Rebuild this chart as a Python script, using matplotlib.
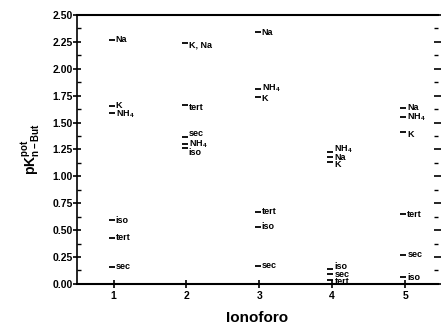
import matplotlib
matplotlib.use("Agg")
import matplotlib.pyplot as plt
from matplotlib.ticker import MultipleLocator

plt.rcParams['font.family'] = ['Liberation Sans', 'DejaVu Sans']
plt.rcParams['font.weight'] = 'bold'
plt.rcParams['mathtext.fontset'] = 'custom'
plt.rcParams['mathtext.rm'] = 'Liberation Sans:bold'
plt.rcParams['mathtext.bf'] = 'Liberation Sans:bold'
plt.rcParams['mathtext.it'] = 'Liberation Sans:bold'
plt.rcParams['mathtext.default'] = 'bf'

# ionophore number for each labelled value
ionoforo = [1, 1, 1, 1, 1, 1,
            2, 2, 2, 2, 2,
            3, 3, 3, 3, 3, 3,
            4, 4, 4, 4, 4, 4,
            5, 5, 5, 5, 5, 5]
ions = ['Na', 'K', 'NH$_4$', 'iso', 'tert', 'sec',
        'K, Na', 'tert', 'sec', 'NH$_4$', 'iso',
        'Na', 'NH$_4$', 'K', 'tert', 'iso', 'sec',
        'NH$_4$', 'Na', 'K', 'iso', 'sec', 'tert',
        'Na', 'NH$_4$', 'K', 'tert', 'sec', 'iso']
pk = [2.27, 1.65, 1.59, 0.59, 0.43, 0.16,
      2.24, 1.66, 1.37, 1.30, 1.26,
      2.34, 1.81, 1.74, 0.67, 0.53, 0.17,
      1.23, 1.18, 1.13, 0.14, 0.09, 0.04,
      1.64, 1.55, 1.41, 0.65, 0.27, 0.06]

# small vertical nudges (points) for crowded labels
nudge = {1: 1, 2: -1, 6: -1.5, 7: -1.5, 8: 2.5, 10: -3, 12: 1, 13: -1,
         17: 1.5, 19: -1.5, 20: 2, 22: -1.5, 25: -1.5}

fig = plt.figure(figsize=(4.41, 3.26), dpi=100)
ax = fig.add_axes([0.175, 0.129, 0.818, 0.825])

ax.plot([x - 0.025 for x in ionoforo], pk, ls='none', marker='_',
        ms=5, mew=1.3, color='black')
for i, (x, y, s) in enumerate(zip(ionoforo, pk, ions)):
    ax.annotate(s, (x + 0.03, y), xytext=(0, nudge.get(i, 0)),
                textcoords='offset points', fontsize=6.5,
                fontweight='bold', ha='left', va='center')

ax.set_xlim(0.5, 5.45)
ax.set_ylim(0, 2.5)
ax.set_xticks([1, 2, 3, 4, 5])
ax.yaxis.set_major_locator(MultipleLocator(0.25))
ax.yaxis.set_minor_locator(MultipleLocator(0.125))
ax.set_yticklabels(['%.2f' % v for v in ax.get_yticks()])

ax.spines['right'].set_visible(False)
ax.spines['top'].set_linewidth(1.5)
ax.spines['left'].set_linewidth(1.2)
ax.spines['bottom'].set_linewidth(1.5)
ax.tick_params(axis='y', which='major', direction='inout', length=6,
               width=1.2, labelsize=7.5, pad=0, right=True)
ax.tick_params(axis='y', which='minor', direction='in', length=3,
               width=1, right=True)
ax.tick_params(axis='x', which='major', direction='inout', length=6,
               width=1.2, labelsize=7.5, pad=2)

ax.set_xlabel('Ionoforo', fontsize=11, fontweight='bold', labelpad=7)
ax.set_ylabel(r'pK$^{pot}_{n-But}$', fontsize=10, fontweight='bold',
              labelpad=8)

fig.savefig('out.png', dpi=100)
